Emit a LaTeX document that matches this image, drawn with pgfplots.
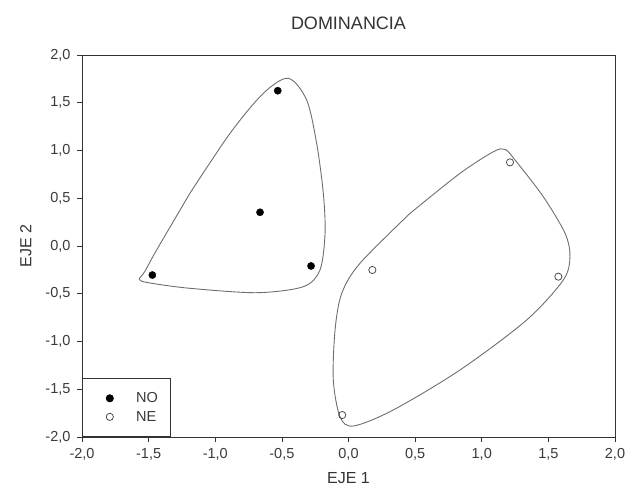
\documentclass[border=0pt]{standalone}
\usepackage{fontspec}
\setmainfont{Liberation Sans}
\usepackage{pgfplots}
\pgfplotsset{compat=1.18}
\definecolor{axisgray}{HTML}{333333}
\definecolor{hullgray}{HTML}{6E6E6E}
\definecolor{txtgray}{HTML}{3A3A3A}
\begin{document}
\begin{tikzpicture}
\begin{axis}[
  scale only axis,
  width=533pt, height=382pt,
  xmin=-2, xmax=2, ymin=-2, ymax=2,
  xtick={-2,-1.5,...,2}, ytick={-2,-1.5,...,2},
  tick align=outside, tick pos=left,
  major tick length=5pt,
  axis line style={axisgray, line width=0.8pt},
  every tick/.style={axisgray, line width=0.7pt},
  /pgf/number format/.cd, use comma, fixed, fixed zerofill, precision=1, assume math mode=true,
  /pgfplots/.cd,
  tick label style={font=\fontsize{14.5}{16}\selectfont, text=txtgray},
  xticklabel style={yshift=-3pt},
  yticklabel style={xshift=-3pt},
  title={DOMINANCIA},
  title style={font=\fontsize{18}{20}\selectfont, text=axisgray, yshift=16pt},
  xlabel={EJE 1}, ylabel={EJE 2},
  label style={font=\fontsize{16}{18}\selectfont, text=axisgray},
  xlabel style={yshift=-5pt},
  ylabel style={yshift=7pt},
  legend style={at={(0,0)}, anchor=south west, draw=axisgray, line width=0.8pt,
    font=\fontsize{14.5}{16}\selectfont, text=txtgray,
    inner xsep=10pt, inner ysep=12pt, row sep=3pt, column sep=15pt,
    cells={anchor=west}},
  legend cell align=left,
  legend image code/.code={\path (0pt,0pt) (26pt,0pt); \draw[#1] plot coordinates {(17pt,0pt)};},
]
\addplot[only marks, mark=*, mark size=3.6pt, mark options={fill=black, draw=black}]
  coordinates {(-1.472,-0.304) (-0.531,1.626) (-0.664,0.353) (-0.281,-0.209)};
\addlegendentry{NO}
\addplot[only marks, mark=o, mark size=3.6pt, mark options={fill=white, draw=txtgray, line width=0.7pt}]
  coordinates {(1.212,0.876) (1.575,-0.321) (0.179,-0.251) (-0.047,-1.770)};
\addlegendentry{NE}
\addplot[hullgray, line width=0.9pt, smooth, tension=0.5, forget plot]
  coordinates {(-1.19,0.552) (-0.889,1.18) (-0.639,1.599) (-0.452,1.756) (-0.314,1.529)
   (-0.239,1.075) (-0.189,0.552) (-0.176,0.133) (-0.214,-0.251) (-0.339,-0.426)
   (-0.689,-0.489) (-1.19,-0.443) (-1.50,-0.385) (-1.57,-0.35) (-1.53,-0.27)
   (-1.44,-0.042) (-1.19,0.552)};
\addplot[hullgray, line width=0.9pt, smooth, tension=0.5, forget plot]
  coordinates {(0.462,0.342) (0.837,0.761) (1.087,0.987) (1.174,1.012) (1.25,0.90)
   (1.462,0.516) (1.625,0.133) (1.662,-0.112) (1.612,-0.356) (1.337,-0.775)
   (0.837,-1.298) (0.336,-1.717) (0.036,-1.885) (-0.064,-1.787) (-0.114,-1.403)
   (-0.101,-0.88) (-0.051,-0.496) (0.086,-0.181) (0.462,0.342)};
\end{axis}
\pgfresetboundingbox
\path ([xshift=-82pt,yshift=-60pt]current axis.south west) rectangle ([xshift=12pt,yshift=55pt]current axis.north east);
\end{tikzpicture}
\end{document}
